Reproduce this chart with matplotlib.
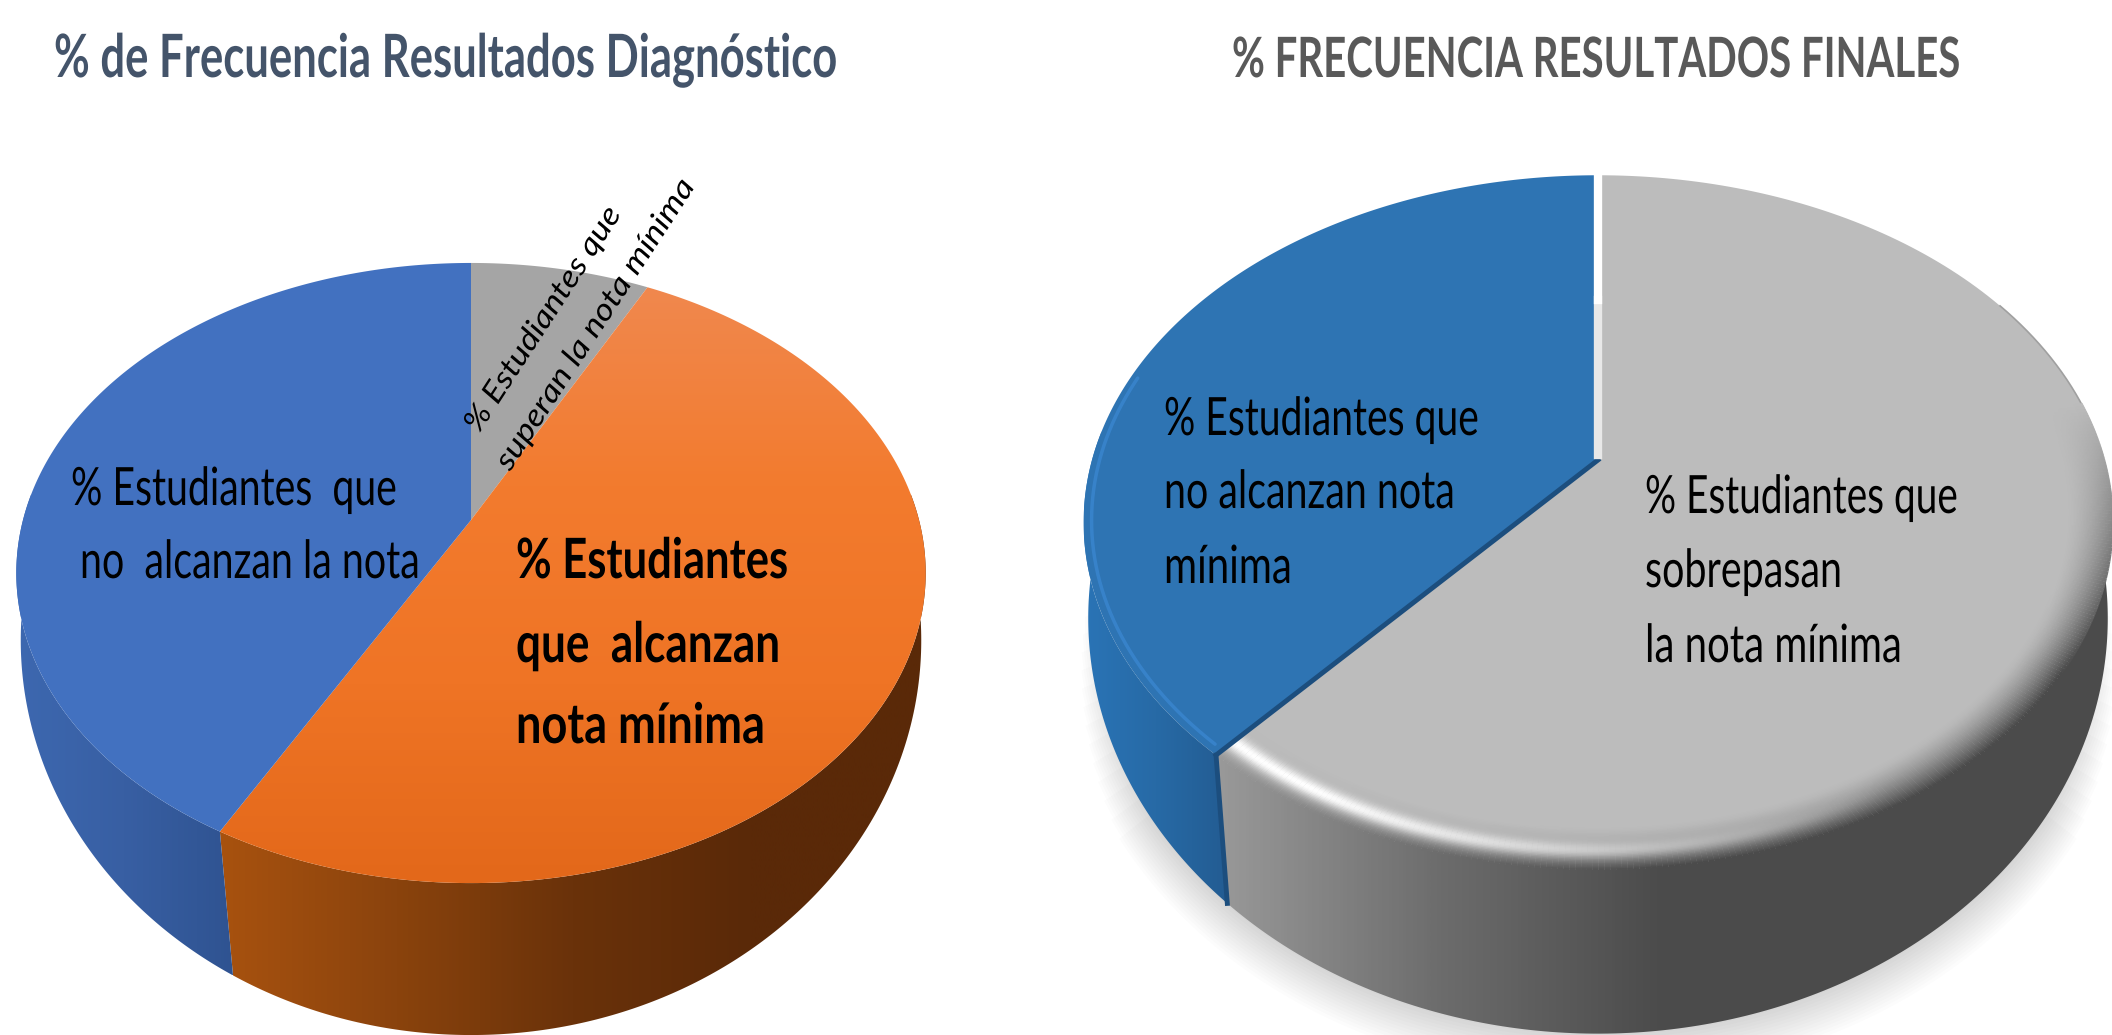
import numpy as np
import matplotlib
matplotlib.use("Agg")
from matplotlib import pyplot as plt
from matplotlib import patheffects
from matplotlib.collections import LineCollection
from matplotlib.colors import LinearSegmentedColormap, to_rgb
from matplotlib.patches import Polygon
from matplotlib.transforms import Affine2D

# data
diag_labels = ['superan', 'alcanzan', 'no alcanzan']
diag_values = [7.5, 50.4, 42.1]
final_labels = ['sobrepasan', 'no alcanzan']
final_values = [61.3, 38.7]

title_diag = '% de Frecuencia Resultados Diagnóstico'
title_final = '% FRECUENCIA RESULTADOS FINALES'

FONT = ['Lato', 'Liberation Sans', 'DejaVu Sans']

# only the near side of a wall can be seen
WALL_FROM = np.radians(85)
WALL_TO = np.radians(275)

fig = plt.figure(figsize=(21.12, 10.35), dpi=100)
ax = fig.add_axes([0, 0, 1, 1])
ax.set_axis_off()
ax.set_xlim(0, 2112)
ax.set_ylim(1035, 0)


class Squeeze(patheffects.AbstractPathEffect):
    # the picture's text is much narrower than any installed font
    def __init__(self, anchor, sx, angle):
        super().__init__()
        self.tr = (Affine2D().translate(-anchor[0], -anchor[1]).rotate_deg(-angle)
                   .scale(sx, 1).rotate_deg(angle).translate(*anchor))

    def draw_path(self, renderer, gc, tpath, affine, rgbFace=None):
        renderer.draw_path(gc, tpath, affine + self.tr, rgbFace)


def project(theta, geo, r=1.0):
    # theta clockwise from 12 o'clock, circle seen in perspective
    cx, ay, R, s, k = geo
    u, v = r*np.sin(theta), r*np.cos(theta)
    w = 1 + k*v
    return cx + R*u/w, ay - s*v/w


def bounds(values):
    return np.concatenate(([0], np.cumsum(values)))/np.sum(values)*2*np.pi


def arc(t0, t1, n=200):
    return np.linspace(t0, t1, n)


def shaded_poly(x, y, colors, vertical=False, zorder=1):
    cmap = LinearSegmentedColormap.from_list('c', colors)
    grad = np.linspace(0, 1, 256)
    grad = grad[:, None] if vertical else grad[None, :]
    x0, x1, y0, y1 = x.min(), x.max(), y.min(), y.max()
    im = ax.imshow(grad, cmap=cmap, extent=(x0, x1, y1, y0), aspect='auto',
                   vmin=0, vmax=1, zorder=zorder, interpolation='bilinear')
    im.set_clip_path(Polygon(np.c_[x, y], transform=ax.transData))
    ax.set_xlim(0, 2112)
    ax.set_ylim(1035, 0)


def wall(t0, t1, top, bottom, colors, zorder=1):
    th = arc(max(t0, WALL_FROM), min(t1, WALL_TO))
    xt, yt = project(th, top)
    xb, yb = project(th, bottom)
    shaded_poly(np.r_[xt, xb[::-1]], np.r_[yt, yb[::-1]], colors, zorder=zorder)


def face(t0, t1, geo):
    th = arc(t0, t1)
    x, y = project(th, geo)
    return np.r_[geo[0], x], np.r_[geo[1], y]


def label(x, y, s, width, size, rotation=0, ha='left', **kw):
    t = ax.text(x, y, s, family=FONT, va='baseline', ha=ha, fontsize=size,
                rotation_mode='anchor', **kw)
    w = t.get_window_extent(fig.canvas.get_renderer()).width
    t.set_rotation(rotation)
    t.set_path_effects([Squeeze(ax.transData.transform((x, y)), width/w, rotation)])
    return t


# ---- left pie
top_l = (471, 520, 448, 301, 0.171)
bot_l = (471, 593, 447, 389, 0.12)
a = bounds(diag_values)

wall(a[1], a[2], top_l, bot_l, ['#A8520F', '#8A430D', '#6A320A', '#5A2908', '#5A2908'])
wall(a[2], a[3], top_l, bot_l, ['#3D68B0', '#385FA3', '#2F5391'])

x, y = face(a[0], a[1], top_l)
ax.fill(x, y, color='#A5A5A5', lw=0, zorder=2)
x, y = face(a[1], a[2], top_l)
shaded_poly(x, y, ['#F0884E', '#F37B2E', '#EF7425', '#E3681A'], vertical=True, zorder=2)
x, y = face(a[2], a[3], top_l)
ax.fill(x, y, color='#4271C0', lw=0, zorder=2)

# ---- right pie
top_r = (1598, 460, 506, 336, 0.18)
bot_r = (1598, 556, 504, 406, 0.15)
b = bounds(final_values)

# soft shadow under the pie, fading out towards the sides
for grow in np.linspace(1, 30, 14):
    th = arc(np.radians(95 + grow), np.radians(265 - grow))
    sx, sy = project(th, (1598, 556 + grow*0.3, 504 + grow, 406 + grow, 0.15))
    ax.fill(np.r_[sx, 1598], np.r_[sy, 460], color='#808080', alpha=0.022, lw=0, zorder=0)

blue_wall = ['#2A74B6', '#276AA6', '#235C92']
gray_wall = ['#999999', '#6C6C6C', '#4B4B4B', '#4B4B4B', '#4B4B4B']
wall(b[1], b[2], top_r, bot_r, blue_wall)
wall(b[0], b[1], top_r, bot_r, gray_wall)

x, y = face(b[0], b[1], top_r)
ax.fill(x, y, color='#BCBCBC', lw=0, zorder=2)
x, y = face(b[1], b[2], top_r)
ax.fill(x, y, color='#2E74B3', lw=0, zorder=2)

# thin darker edge on the far right of the grey slice
th = arc(np.radians(60), np.radians(100))
x, y = project(th, top_r)
ax.plot(x, y, color='#A0A0A0', lw=1.2, zorder=3)

# bevel on the near rim of the grey slice
wall_cmap = LinearSegmentedColormap.from_list('w', gray_wall)
th = arc(np.radians(80), b[1], 260)
tm = 0.5*(th[1:] + th[:-1])
gray_top = np.array(to_rgb('#BCBCBC'))
wx0, wx1 = project(b[1], top_r)[0], project(np.pi/2, top_r)[0]
for t in np.linspace(1, 0, 32):
    x, y = project(th, top_r, r=1 - 0.085*t)
    xm = 0.5*(x[1:] + x[:-1])
    base = wall_cmap(np.clip((xm - wx0)/(wx1 - wx0), 0, 1))[:, :3]
    side = np.clip((np.degrees(tm) - 80)/45, 0, 1)[:, None]
    mix = (1 - t)**1.5*side
    col = gray_top*(1 - mix) + base*mix
    hi = np.clip((np.degrees(tm) - 150)/60, 0, 1)[:, None]*np.exp(-((t - 0.45)/0.2)**2)
    col = col*(1 - hi) + hi
    seg = np.stack([np.c_[x[:-1], y[:-1]], np.c_[x[1:], y[1:]]], axis=1)
    ax.add_collection(LineCollection(seg, colors=col, linewidths=1.8, zorder=3))

# light rim on the blue slice
th = arc(b[1] + 0.02, np.radians(285))
x, y = project(th, top_r, r=0.985)
ax.plot(x, y, color='#3A86CF', lw=2.5, alpha=0.8, zorder=3, solid_capstyle='round')

# dark edges and white gap between the slices
ex, ey = project(b[1], top_r)
ax.plot([1598, ex], [460, ey], color='#1C4E7E', lw=3.5, zorder=4)
fx, fy = project(b[1], bot_r)
ax.plot([ex, fx], [ey, fy], color='#1C4E7E', lw=3.5, zorder=4)
ax.plot([1598, 1598], [300, 455], color='#E8E8E8', lw=6, zorder=4)
ax.plot([1598, 1598], [172, 300], color='white', lw=6, zorder=4)

# ---- text
label(54, 77, title_diag, 784, 43, color='#44546A', fontweight='bold')
label(1596, 77, title_final, 728, 40, ha='center', color='#595959', fontweight='bold')

label(71, 505, '% Estudiantes  que', 326, 38, color='black')
label(80, 578, 'no  alcanzan la nota', 340, 38, color='black')
label(516, 578, '% Estudiantes', 272, 40, color='black', fontweight='bold')
label(516, 662, 'que  alcanzan', 264, 40, color='black', fontweight='bold')
label(516, 743, 'nota mínima', 249, 40, color='black', fontweight='bold')
label(479, 434, '% Estudiantes que', 262, 22, rotation=57, color='black', style='italic')
label(510, 472, 'superan la nota mínima', 340, 22, rotation=57, color='black', style='italic')

label(1164, 435, '% Estudiantes que', 315, 38, color='black')
label(1164, 508, 'no alcanzan nota', 291, 38, color='black')
label(1164, 583, 'mínima', 128, 38, color='black')
label(1645, 513, '% Estudiantes que', 313, 38, color='black')
label(1645, 587, 'sobrepasan', 197, 38, color='black')
label(1645, 662, 'la nota mínima', 257, 38, color='black')

fig.savefig('out.png', dpi=100, facecolor='white')
